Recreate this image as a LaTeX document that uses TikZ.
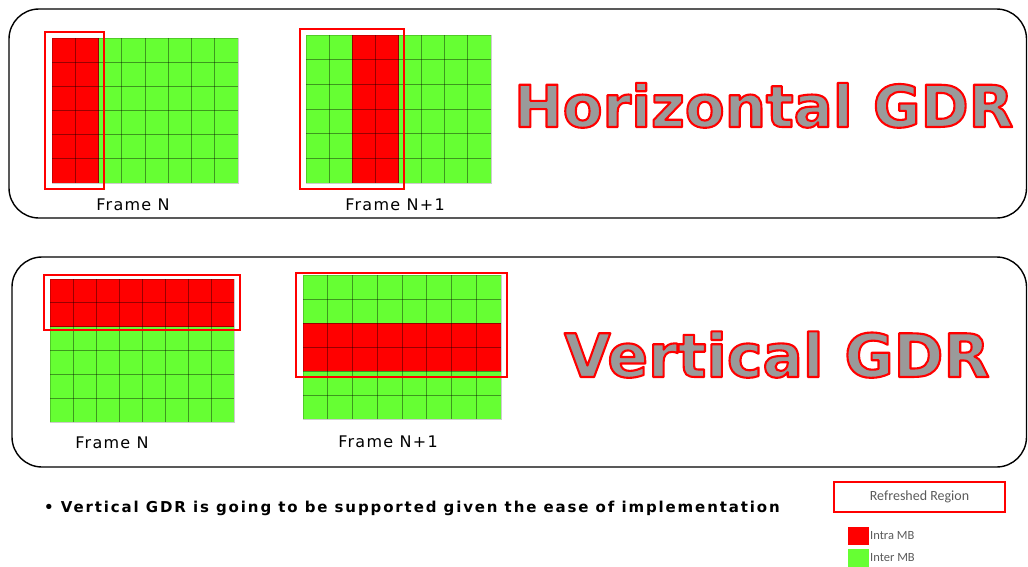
\documentclass[tikz,border=0pt]{standalone}
\usepackage{fontspec}
\setmainfont{DejaVu Sans}
\newfontfamily\legendfont{Carlito}
\definecolor{intra}{HTML}{FF0000}
\definecolor{inter}{HTML}{66FF33}
\definecolor{titlegray}{HTML}{9A9A9A}
\definecolor{legendgray}{HTML}{5A5A5A}

% gray letters with a red stroke round them
\newcommand{\redoutline}[1]{\special{pdf:literal direct 1 0 0 RG 2.1 w 1 j 2 Tr}#1\special{pdf:literal direct 0 Tr}}

% one frame of 8x6 macroblocks: #1,#2 top left, #3,#4 bottom right, #5 the intra part
\newcommand{\mbgrid}[5]{%
	\fill[inter] (#1,#2) rectangle (#3,#4);
	\fill[intra] #5;
	\foreach \k in {1,...,7} \draw[mbline] ({#1+\k*(#3-#1)/8},#2) -- ({#1+\k*(#3-#1)/8},#4);
	\foreach \k in {1,...,5} \draw[mbline] (#1,{#2+\k*(#4-#2)/6}) -- (#3,{#2+\k*(#4-#2)/6});
	\draw[mbedge] (#1,#2) rectangle (#3,#4);
}

\begin{document}
\begin{tikzpicture}[x=1pt,y=-1pt]
	\tikzstyle{panel}=[draw,line width=1.4pt,rounded corners=30pt]
	\tikzstyle{mbline}=[draw=black,draw opacity=0.4,line width=0.9pt]
	\tikzstyle{mbedge}=[draw=black,draw opacity=0.2,line width=0.6pt]
	\tikzstyle{refresh}=[draw=intra,line width=2pt]
	\tikzstyle{framelabel}=[font=\fontsize{16}{16}\selectfont\addfontfeature{LetterSpace=8},inner sep=0pt]
	\tikzstyle{title}=[font=\fontsize{58}{58}\selectfont\bfseries,text=titlegray,inner sep=0pt,anchor=base west]
	\tikzstyle{legend}=[font=\legendfont\fontsize{12.5}{12.5}\selectfont,text=legendgray,inner sep=0pt]

	\useasboundingbox (0,0) rectangle (1028,566);

	% horizontal GDR
	\draw[panel] (9,9) rectangle (1026.5,218);
	\mbgrid{52}{38}{238}{183}{(52,38) rectangle (98.5,183)}
	\mbgrid{306}{35}{491}{183}{(352.25,35) rectangle (398.5,183)}
	\draw[refresh] (45,32) rectangle (104,189);
	\draw[refresh] (300,29) rectangle (404,189);
	\node[framelabel](hFrameN) at (133,205) {Frame N};
	\node[framelabel](hFrameNext) at (395,205) {Frame N+1};
	\node[title](hTitle) at (514,127) {\redoutline{Horizontal GDR}};

	% vertical GDR
	\draw[panel] (12,257) rectangle (1026.5,467);
	\mbgrid{50}{279}{234}{422}{(50,279) rectangle (234,326.7)}
	\mbgrid{303}{275}{501}{419}{(303,323) rectangle (501,371)}
	\draw[refresh] (44,275) rectangle (240,330);
	\draw[refresh] (296,273) rectangle (507,377);
	\node[framelabel](vFrameN) at (112,443) {Frame N};
	\node[framelabel](vFrameNext) at (388,442) {Frame N+1};
	\node[title,font=\fontsize{60}{60}\selectfont\bfseries](vTitle) at (564,377) {\redoutline{Vertical GDR}};

	% note and legend
	\node[font=\fontsize{15}{15}\selectfont\bfseries\addfontfeature{LetterSpace=12.5},inner sep=0pt,anchor=base west](note) at (44,512) {• Vertical GDR is going to be supported given the ease of implementation};
	\node[refresh,legend,font=\legendfont\fontsize{14}{14}\selectfont,minimum width=171pt,minimum height=30pt](refreshed) at (919.5,497) {Refreshed Region};
	\fill[intra] (848,527) rectangle (869,545);
	\fill[inter] (848,549) rectangle (869,567);
	\node[legend,anchor=west](intraMB) at (870,536) {Intra MB};
	\node[legend,anchor=west](interMB) at (870,558) {Inter MB};
\end{tikzpicture}
\end{document}
